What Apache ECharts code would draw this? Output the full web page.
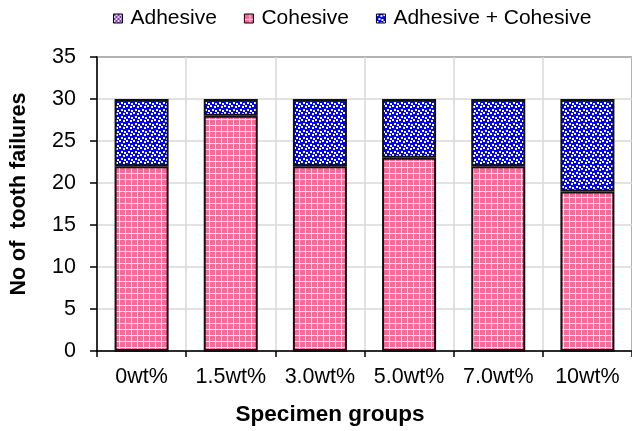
<!DOCTYPE html>
<html>
<head>
<meta charset="utf-8">
<script src="https://cdn.jsdelivr.net/npm/echarts@6/dist/echarts.min.js"></script>
<style>
html,body{margin:0;padding:0;background:#fff;}
#chart{width:632px;height:431px;}
</style>
</head>
<body>
<div id="chart"></div>
<script>
const categories = ['0wt%', '1.5wt%', '3.0wt%', '5.0wt%', '7.0wt%', '10wt%'];
const adhesive = [0, 0, 0, 0, 0, 0];
const cohesive = [22, 28, 22, 23, 22, 19];
const adhesiveCohesive = [8, 2, 8, 7, 8, 11];
const yTicks = [0, 5, 10, 15, 20, 25, 30, 35];

function makePattern(size, draw) {
  const c = document.createElement('canvas');
  c.width = size; c.height = size;
  const ctx = c.getContext('2d');
  draw(ctx, size);
  return { image: c, repeat: 'repeat' };
}
const pinkPattern = makePattern(6, (ctx, s) => {
  ctx.fillStyle = '#FF6699';
  ctx.fillRect(0, 0, s, s);
  ctx.fillStyle = 'rgba(255,235,245,0.92)';
  ctx.fillRect(5, 0, 1, s);
  ctx.fillRect(0, 5, s, 1);
});
const bluePattern = makePattern(7, (ctx, s) => {
  ctx.fillStyle = '#0000FF';
  ctx.fillRect(0, 0, s, s);
  ctx.fillStyle = '#FFFFFF';
  ctx.fillRect(0, 0, 2, 2);
  ctx.fillRect(4, 1, 2, 2);
  ctx.fillRect(2, 4, 2, 2);
  ctx.fillRect(5, 5, 2, 2);
});
const purplePattern = makePattern(4, (ctx, s) => {
  ctx.fillStyle = '#E6CCFF';
  ctx.fillRect(0, 0, s, s);
  ctx.fillStyle = '#7A3DB8';
  ctx.fillRect(0, 0, 2, 2);
  ctx.fillRect(2, 2, 2, 2);
});

const font = "Arial, 'Liberation Sans', sans-serif";
const chart = echarts.init(document.getElementById('chart'), null, { renderer: 'canvas' });
const barStyle = (color) => ({ color: color, borderColor: '#111', borderWidth: 2 });
chart.setOption({
  animation: false,
  textStyle: { fontFamily: font },
  legend: {
    left: 113, top: 8, padding: 0,
    itemWidth: 9, itemHeight: 9, itemGap: 27,
    icon: 'rect',
    itemStyle: { borderWidth: 1, borderColor: '#000' },
    textStyle: { fontFamily: font, fontSize: 21, color: '#000', padding: [0, 0, 0, 3] },
    data: ['Adhesive', 'Cohesive', 'Adhesive + Cohesive']
  },
  grid: {
    left: 97, right: -3.5, top: 57, bottom: 80,
    show: true, borderColor: '#000', borderWidth: 1.5, backgroundColor: 'transparent'
  },
  xAxis: {
    type: 'category',
    data: categories,
    axisLine: { lineStyle: { color: '#000', width: 1.5 } },
    axisTick: { show: true, interval: 0, length: 6, lineStyle: { color: '#000', width: 1.5 } },
    axisLabel: { interval: 0, fontFamily: font, fontSize: 21.5, color: '#000', margin: 15 },
    splitLine: { show: true, interval: 0, lineStyle: { color: '#d9d9d9', width: 1.5 } },
    name: 'Specimen groups',
    nameLocation: 'middle',
    nameGap: 52,
    nameTextStyle: { fontFamily: font, fontSize: 22.5, fontWeight: 'bold', color: '#000', padding: [0, 69, 0, 0] }
  },
  yAxis: {
    type: 'value',
    min: 0, max: 35, interval: 5,
    axisLine: { show: true, lineStyle: { color: '#000', width: 1.5 } },
    axisTick: { show: true, length: 7, lineStyle: { color: '#000', width: 1.5 } },
    axisLabel: {
      fontFamily: font, fontSize: 21.5, color: '#000', margin: 21,
      formatter: (v) => yTicks.includes(v) ? String(v) : ''
    },
    splitLine: { show: true, lineStyle: { color: '#d9d9d9', width: 1.5 } },
    name: 'No of  tooth failures',
    nameLocation: 'middle',
    nameGap: 67,
    nameRotate: 90,
    nameTextStyle: { fontFamily: font, fontSize: 21.5, fontWeight: 'bold', color: '#000', padding: [0, 0, 0, 20] }
  },
  series: [
    { name: 'Adhesive', type: 'bar', stack: 'total', barWidth: '60.6%', data: adhesive, itemStyle: barStyle(purplePattern) },
    { name: 'Cohesive', type: 'bar', stack: 'total', barWidth: '60.6%', data: cohesive, itemStyle: barStyle(pinkPattern) },
    { name: 'Adhesive + Cohesive', type: 'bar', stack: 'total', barWidth: '60.6%', data: adhesiveCohesive, itemStyle: barStyle(bluePattern) }
  ]
});
</script>
</body>
</html>
